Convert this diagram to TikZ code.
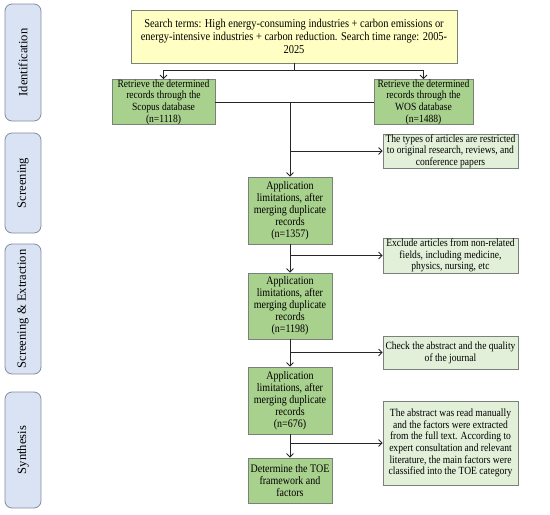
\documentclass[tikz,border=0pt]{standalone}
\usepackage{fontspec}
\setmainfont{Liberation Serif}[FakeStretch=0.87]
\newfontfamily\phasefont{Liberation Serif}
\usepackage{xcolor}
\usetikzlibrary{arrows.meta, positioning}
\definecolor{searchfill}{RGB}{255,255,196}
\definecolor{stepgreen}{RGB}{169,209,142}
\definecolor{notegreen}{RGB}{226,240,217}
\definecolor{phaseblue}{RGB}{218,227,243}
\definecolor{boxline}{RGB}{120,130,120}
\definecolor{phaseline}{RGB}{130,140,160}

\begin{document}
\begin{tikzpicture}[
			x=1pt, y=-1pt,
			every node/.style={font=\fontsize{11}{11.7}\selectfont},
			%% Node styles
			phase/.style={rectangle, draw=phaseline, thick, fill=phaseblue,
				rounded corners=7pt, minimum width=36pt, inner sep=0pt},
			phasetext/.style={rotate=90, font=\phasefont\fontsize{12.6}{15}\selectfont},
			search/.style={rectangle, draw=boxline, thick, fill=searchfill,
				minimum width=326pt, minimum height=53pt,
				align=center, inner sep=0pt,
				font=\fontsize{12}{12.8}\selectfont},
			record/.style={rectangle, draw=boxline, thick, fill=stepgreen,
				minimum height=44pt, align=center, inner sep=0pt},
			stage/.style={rectangle, draw=boxline, thick, fill=stepgreen,
				minimum width=84pt, align=center, inner sep=0pt,
				font=\fontsize{11.5}{11.9}\selectfont},
			note/.style={rectangle, draw=boxline, thick, fill=notegreen,
				minimum width=135pt, align=center, inner sep=0pt},
			%% Arrow styles
			arr/.style={-{Straight Barb[length=3.5pt,width=7pt]}, line width=0.8pt, black!85},
			ln/.style={line width=0.8pt, black!85},
			]
			
			\useasboundingbox (0,0) rectangle (550,515);
			
			%% ── Phase labels (left column) ───────────────────────────────────
			\node[phase, minimum height=117pt] (pid)  at (23,62.5)  {};
			\node[phasetext] at (pid)  {Identification};
			\node[phase, minimum height=100pt] (pscr) at (23,183)   {};
			\node[phasetext] at (pscr) {Screening};
			\node[phase, minimum height=130pt] (pext) at (23,309)   {};
			\node[phasetext] at (pext) {Screening \& Extraction};
			\node[phase, minimum height=116pt] (psyn) at (23,450)   {};
			\node[phasetext] at (psyn) {Synthesis};
			
			%% ── Main column ──────────────────────────────────────────────────
			\node[search] (query) at (294,36.5)
			{Search terms: High energy-consuming industries + carbon emissions or\\
				energy-intensive industries + carbon reduction. Search time range: 2005-\\2025};
			
			\node[record, minimum width=103pt] (scopus) at (163.5,102)
			{Retrieve the determined\\records through the\\Scopus database\\(n=1118)};
			\node[record, minimum width=99pt] (wos) at (423.5,102)
			{Retrieve the determined\\records through the\\WOS database\\(n=1488)};
			
			\node[stage, minimum height=67pt] (lim1) at (290,210.5)
			{Application\\limitations, after\\merging duplicate\\records\\(n=1357)};
			\node[stage, minimum height=66pt] (lim2) at (290,306)
			{Application\\limitations, after\\merging duplicate\\records\\(n=1198)};
			\node[stage, minimum height=67pt] (lim3) at (290,400.5)
			{Application\\limitations, after\\merging duplicate\\records\\(n=676)};
			\node[stage, minimum height=45pt] (toe) at (290,480.5)
			{Determine the TOE\\framework and\\factors};
			
			%% ── Side notes (right column) ────────────────────────────────────
			\node[note, minimum height=34pt] (type) at (450.5,151)
			{The types of articles are restricted\\to original research, reviews, and\\conference papers};
			\node[note, minimum height=35pt] (field) at (450.5,255.5)
			{Exclude articles from non-related\\fields, including medicine,\\physics, nursing, etc};
			\node[note, minimum height=33pt] (check) at (450.5,352.5)
			{Check the abstract and the quality\\of the journal};
			\node[note, minimum height=84pt] (read) at (450.5,443)
			{The abstract was read manually\\and the factors were extracted\\from the full text. According to\\expert consultation and relevant\\literature, the main factors were\\classified into the TOE category};
			
			%% ── Connectors ───────────────────────────────────────────────────
			\draw[ln] (query.south) -- ++(0,7) coordinate (split);
			\draw[arr] (split) -| (scopus.north);
			\draw[arr] (split) -| (wos.north);
			
			\draw[ln] (scopus.east) -- (wos.west);
			\draw[arr] (scopus.east -| lim1.north) -- (lim1.north);
			\draw[arr] (type.west -| lim1.north) -- (type.west);
			
			\draw[arr] (lim1) -- (lim2);
			\draw[arr] (field.west -| lim1.south) -- (field.west);
			
			\draw[arr] (lim2) -- (lim3);
			\draw[arr] (check.west -| lim2.south) -- (check.west);
			
			\draw[arr] (lim3) -- (toe);
			\draw[arr] (read.west -| lim3.south) -- (read.west);
			
		\end{tikzpicture}
\end{document}
